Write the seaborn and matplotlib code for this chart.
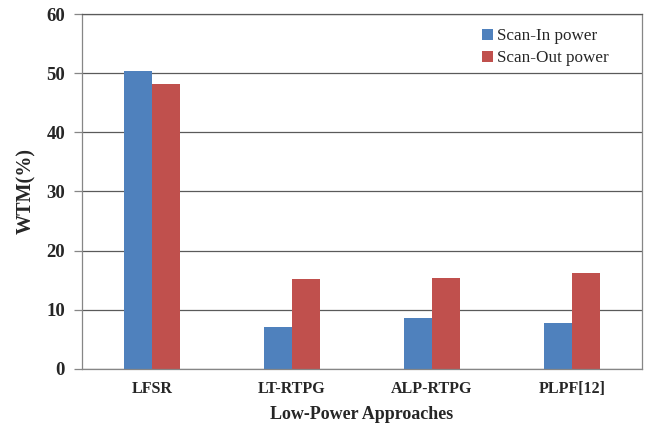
import matplotlib
matplotlib.use("Agg")
import matplotlib.pyplot as plt
import seaborn as sns
import pandas as pd

categories = ["LFSR", "LT-RTPG", "ALP-RTPG", "PLPF[12]"]
scan_in = [50.4, 7.0, 8.6, 7.7]
scan_out = [48.1, 15.2, 15.3, 16.2]
series_names = ["Scan-In power", "Scan-Out power"]
yticks = [0, 10, 20, 30, 40, 50, 60]

df = pd.DataFrame({
    "cat": categories * 2,
    "val": scan_in + scan_out,
    "series": [series_names[0]] * 4 + [series_names[1]] * 4,
})

sns.set_theme(style="white")
plt.rcParams["font.family"] = ["Liberation Serif", "DejaVu Serif"]

fig = plt.figure(figsize=(6.49, 4.25), dpi=100)
ax = fig.add_axes([0.126, 0.132, 0.863, 0.835])

sns.barplot(data=df, x="cat", y="val", hue="series",
            palette=["#4F81BD", "#C0504D"], width=0.4, gap=0,
            saturation=1, ax=ax, legend=True, linewidth=0)

ax.set_ylim(0, 60)
ax.set_yticks(yticks)
ax.set_yticklabels([str(t) for t in yticks], fontsize=13.5, fontweight="bold")
ax.set_xlim(-0.5, 3.5)
ax.set_xticks(range(len(categories)))
ax.set_xticklabels(categories, fontsize=11.5, fontweight="bold")
ax.yaxis.grid(True, color="#5a5a5a", linewidth=0.9)
ax.set_axisbelow(True)
ax.tick_params(axis="y", length=6, width=0.9, color="#868686", direction="out", left=True, pad=6)
ax.tick_params(axis="x", length=0, pad=9)

for side in ["left", "right", "bottom", "top"]:
    ax.spines[side].set_visible(True)
    ax.spines[side].set_color("#868686")
    ax.spines[side].set_linewidth(0.9)
ax.spines["top"].set_color("#5a5a5a")

ax.set_ylabel("WTM(%)", fontsize=14.5, fontweight="bold", labelpad=7)
ax.set_xlabel("Low-Power Approaches", fontsize=13, fontweight="bold", labelpad=6)

leg = ax.legend(loc="upper right", bbox_to_anchor=(0.968, 1.003), frameon=False,
                fontsize=12.3, handlelength=0.65, handleheight=0.65,
                handletextpad=0.2, labelspacing=0.35)

fig.savefig("out.png", dpi=100)
